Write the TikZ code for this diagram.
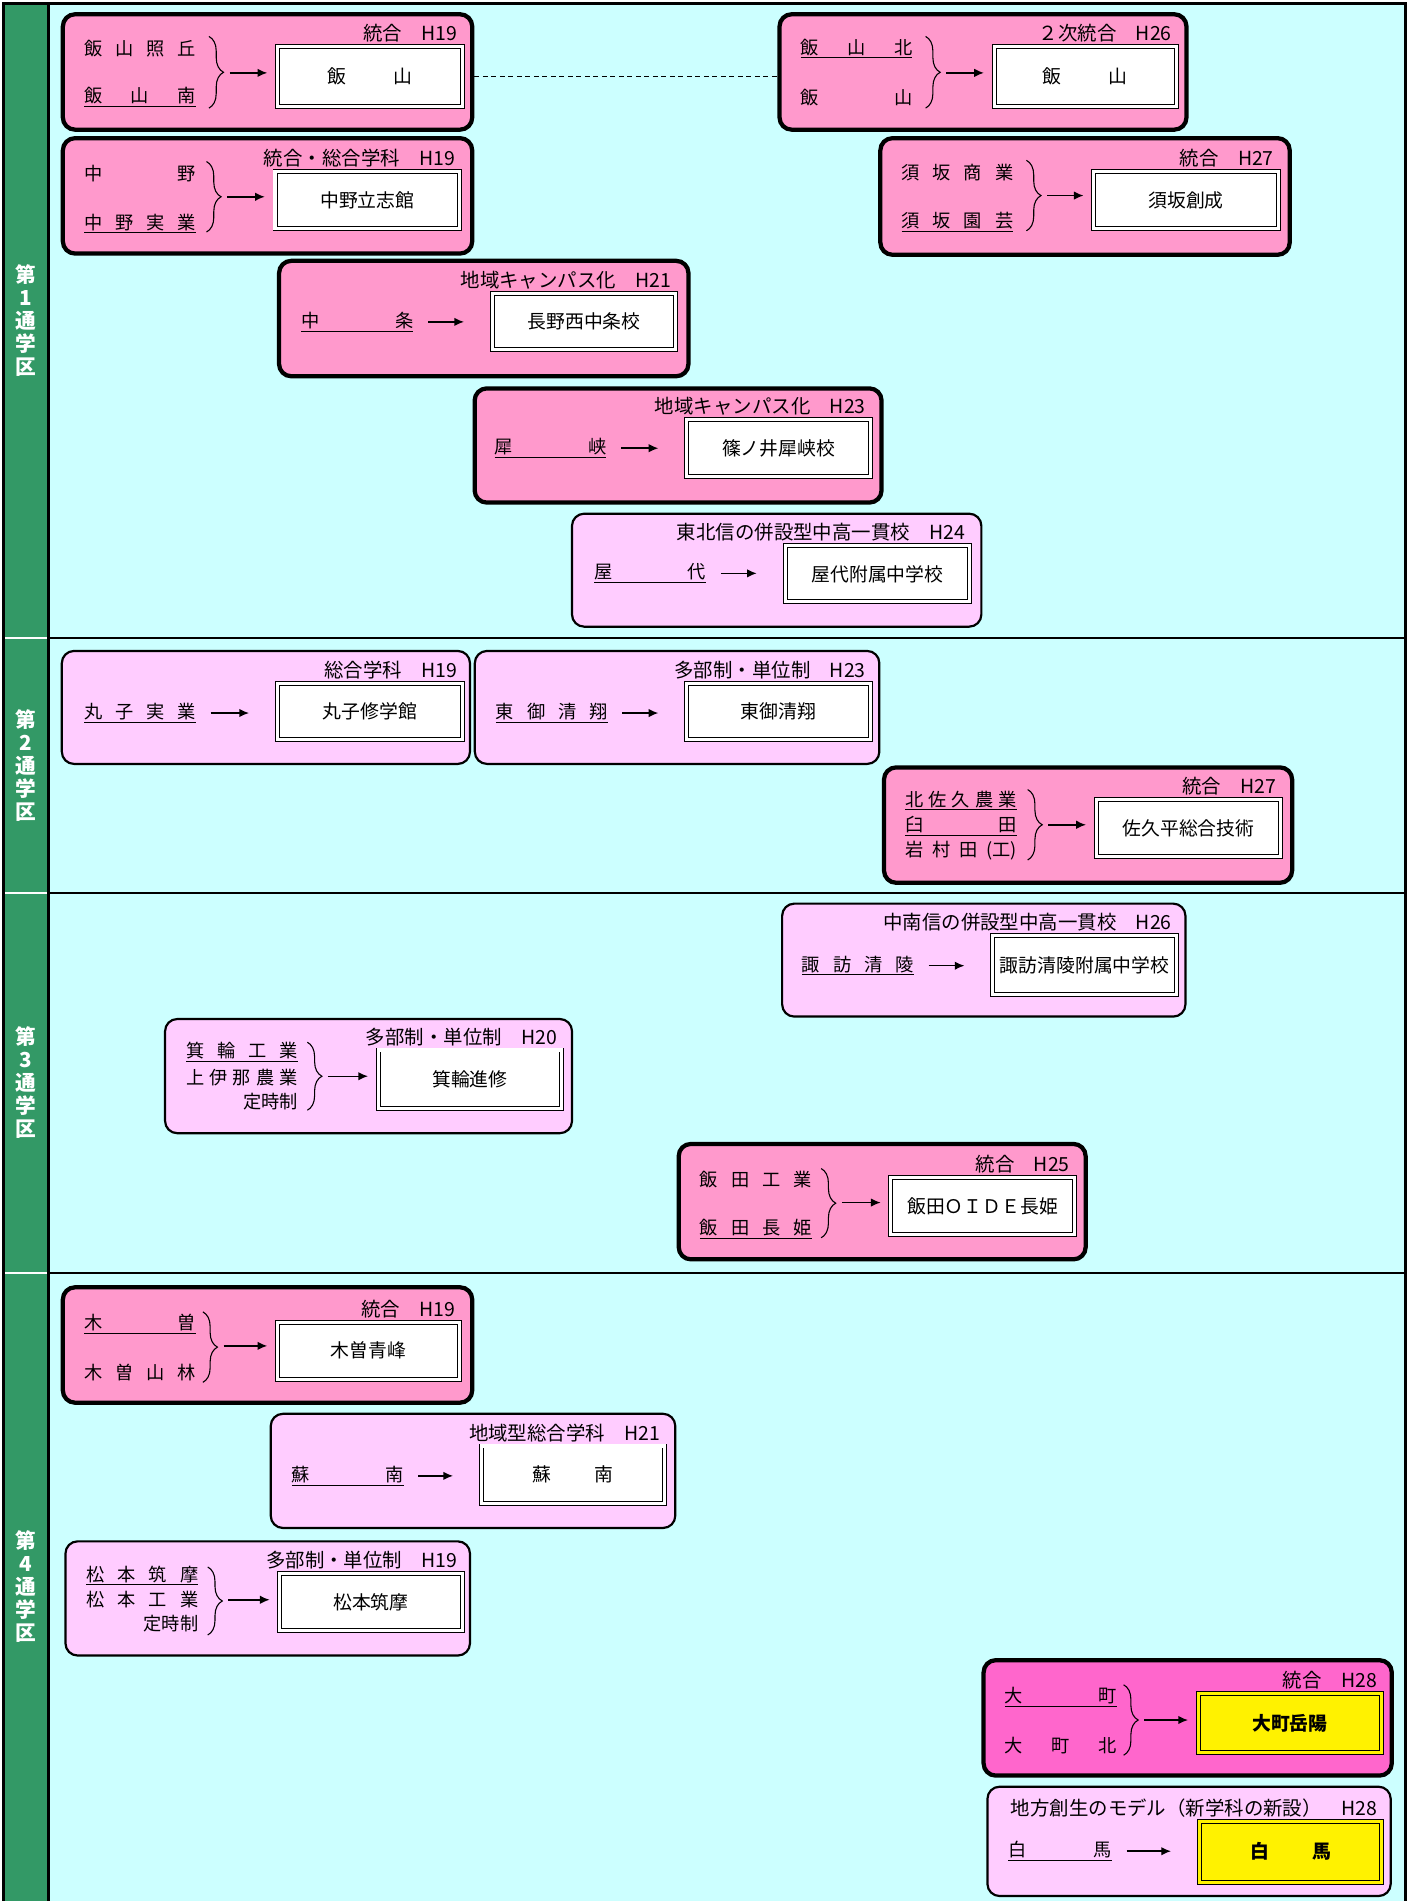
\documentclass[tikz,border=0pt]{standalone}
\usepackage{fontspec}
\setmainfont{Noto Sans CJK JP}
\usetikzlibrary{positioning,calc,arrows.meta,decorations.pathreplacing}
\definecolor{areagreen}{HTML}{339966}
\definecolor{areacyan}{HTML}{CCFFFF}
\definecolor{mergepink}{HTML}{FF99CC}
\definecolor{newpink}{HTML}{FFCCFF}
\definecolor{hotpink}{HTML}{FF66CC}
\newcommand{\sname}[2][92pt]{\makebox[#1][s]{#2}}
\newcommand{\rname}[1]{\makebox[92pt][r]{#1}}
\tikzset{
  every node/.style={font=\fontsize{15pt}{18pt}\selectfont},
  mergebox/.style={draw, line width=3.5pt, rounded corners=10pt, fill=mergepink, anchor=north west},
  hotbox/.style={mergebox, fill=hotpink},
  campusbox/.style={draw, line width=1.8pt, rounded corners=10pt, fill=newpink, anchor=north west},
  newbox/.style={draw, line width=0.8pt, double=white, double distance=2.5pt, fill=white, anchor=north west, inner sep=0pt, font=\fontsize{15.5pt}{18pt}\selectfont},
  goldbox/.style={newbox, double=yellow, fill=yellow, font=\fontsize{15.5pt}{18pt}\selectfont\bfseries},
  oldname/.style={anchor=west, inner sep=0pt},
  kindtext/.style={inner sep=0pt, font=\fontsize{16pt}{18pt}\selectfont},
  areatext/.style={text=white, align=center, inner sep=0pt, font=\fontsize{17pt}{19pt}\selectfont\bfseries},
  brc/.style={decorate, decoration={brace, amplitude=12pt}, line width=0.9pt},
  conv/.style={line width=1.2pt, -{Latex[length=8pt,width=7pt]}, shorten <=5pt, shorten >=8pt},
  conv1/.style={conv, shorten <=12pt, shorten >=23pt}
}
\begin{document}
\begin{tikzpicture}[x=1pt,y=-1pt]
\useasboundingbox (0,0) rectangle (1160,1565);
% background and areas
\fill[areacyan] (3,3) rectangle (1157,1570);
\fill[areagreen] (3,3) rectangle (40,1570);
\draw[line width=2pt] (3,3) rectangle (1157,1570);
\draw[line width=2pt] (40,3) -- (40,1570);
\foreach \yy in {525,735,1048} {
  \draw[line width=2pt] (40,\yy) -- (1157,\yy);
  \draw[white, line width=1.5pt] (4,\yy) -- (39,\yy);
}
\node[areatext] (a1) at (21,264) {第\\1\\通\\学\\区};
\node[areatext] (a2) at (21,630) {第\\2\\通\\学\\区};
\node[areatext] (a3) at (21,891) {第\\3\\通\\学\\区};
\node[areatext] (a4) at (21,1306) {第\\4\\通\\学\\区};

% ---- area 1
\node[mergebox, minimum width=337pt, minimum height=95pt] (b1) at (50,10) {};
\node[oldname] (i1a) at (69,40) {\sname{飯\hfill 山\hfill 照\hfill 丘}};
\node[oldname] (i1b) at (69,80) {\underline{\sname{飯\hfill 山\hfill 南}}};
\draw[brc] (172,30) -- (172,89);
\coordinate (t1) at (184,60);
\node[newbox, minimum width=152pt, minimum height=49pt] (o1) at (228,38) {飯\hspace{2.5em}山};
\node[kindtext, above left=3pt and 4pt of o1.north east] (k1) {統合　H19};
\draw[conv] (t1) -- (t1 -| o1.west);

\node[mergebox, minimum width=335pt, minimum height=95pt] (b2) at (640,10) {};
\node[oldname] (i2a) at (659,40) {\underline{\sname{飯\hfill 山\hfill 北}}};
\node[oldname] (i2b) at (659,80) {\sname{飯\hfill 山}};
\draw[brc] (762,30) -- (762,89);
\coordinate (t2) at (774,60);
\node[newbox, minimum width=150pt, minimum height=49pt] (o2) at (818,38) {飯\hspace{2.5em}山};
\node[kindtext, above left=3pt and 4pt of o2.north east] (k2) {２次統合　H26};
\draw[conv] (t2) -- (t2 -| o2.west);
\draw[dash pattern=on 4pt off 3pt, line width=1pt] (o1.east -| b1.east) -- (o1.east -| b2.west);

\node[mergebox, minimum width=337pt, minimum height=95pt] (b3) at (50,112) {};
\node[oldname] (i3a) at (69,143) {\sname{中\hfill 野}};
\node[oldname] (i3b) at (69,184) {\underline{\sname{中\hfill 野\hfill 実\hfill 業}}};
\draw[brc] (170,133) -- (170,191);
\coordinate (t3) at (182,162);
\node[newbox, minimum width=152pt, minimum height=47pt] (o3) at (226,141) {中野立志館};
\node[kindtext, above left=3pt and 4pt of o3.north east] (k3) {統合・総合学科　H19};
\draw[conv] (t3) -- (t3 -| o3.west);

\node[mergebox, minimum width=337pt, minimum height=96pt] (b4) at (723,112) {};
\node[oldname] (i4a) at (742,142) {\sname{須\hfill 坂\hfill 商\hfill 業}};
\node[oldname] (i4b) at (742,183) {\underline{\sname{須\hfill 坂\hfill 園\hfill 芸}}};
\draw[brc] (845,132) -- (845,190);
\coordinate (t4) at (857,161);
\node[newbox, minimum width=152pt, minimum height=47pt] (o4) at (900,141) {須坂創成};
\node[kindtext, above left=3pt and 4pt of o4.north east] (k4) {統合　H27};
\draw[conv] (t4) -- (t4 -| o4.west);

\node[mergebox, minimum width=337pt, minimum height=95pt] (b5) at (228,213) {};
\node[oldname] (i5) at (248,265) {\underline{\sname{中\hfill 条}}};
\node[newbox, minimum width=151pt, minimum height=46pt] (o5) at (405,241) {長野西中条校};
\node[kindtext, above left=3pt and 4pt of o5.north east] (k5) {地域キャンパス化　H21};
\draw[conv1] (i5.east) -- (i5.east -| o5.west);

\node[mergebox, minimum width=335pt, minimum height=94pt] (b6) at (389,318) {};
\node[oldname] (i6) at (407,369) {\underline{\sname{犀\hfill 峡}}};
\node[newbox, minimum width=151pt, minimum height=47pt] (o6) at (565,345) {篠ノ井犀峡校};
\node[kindtext, above left=3pt and 4pt of o6.north east] (k6) {地域キャンパス化　H23};
\draw[conv1] (i6.east) -- (i6.east -| o6.west);

\node[campusbox, minimum width=337pt, minimum height=93pt] (b7) at (470,422) {};
\node[oldname] (i7) at (489,472) {\underline{\sname{屋\hfill 代}}};
\node[newbox, minimum width=152pt, minimum height=46pt] (o7) at (646,449) {屋代附属中学校};
\node[kindtext, above left=3pt and 4pt of o7.north east] (k7) {東北信の併設型中高一貫校　H24};
\draw[conv1] (i7.east) -- (i7.east -| o7.west);

% ---- area 2
\node[campusbox, minimum width=336pt, minimum height=93pt] (b8) at (50,535) {};
\node[oldname] (i8) at (69,587) {\underline{\sname{丸\hfill 子\hfill 実\hfill 業}}};
\node[newbox, minimum width=152pt, minimum height=46pt] (o8) at (228,562) {丸子修学館};
\node[kindtext, above left=3pt and 4pt of o8.north east] (k8) {総合学科　H19};
\draw[conv1] (i8.east) -- (i8.east -| o8.west);

\node[campusbox, minimum width=333pt, minimum height=93pt] (b9) at (390,535) {};
\node[oldname] (i9) at (408,587) {\underline{\sname{東\hfill 御\hfill 清\hfill 翔}}};
\node[newbox, minimum width=151pt, minimum height=46pt] (o9) at (565,562) {東御清翔};
\node[kindtext, above left=3pt and 4pt of o9.north east] (k9) {多部制・単位制　H23};
\draw[conv1] (i9.east) -- (i9.east -| o9.west);

\node[mergebox, minimum width=336pt, minimum height=95pt] (b10) at (726,630) {};
\node[oldname] (i10a) at (745,659) {\underline{\sname{北\hfill 佐\hfill 久\hfill 農\hfill 業}}};
\node[oldname] (i10b) at (745,680) {\underline{\sname{臼\hfill 田}}};
\node[oldname] (i10c) at (745,700) {\sname{岩\hfill 村\hfill 田\hfill (工)}};
\draw[brc] (846,650) -- (846,708);
\coordinate (t10) at (858,679);
\node[newbox, minimum width=152pt, minimum height=47pt] (o10) at (902,658) {佐久平総合技術};
\node[kindtext, above left=3pt and 4pt of o10.north east] (k10) {統合　H27};
\draw[conv] (t10) -- (t10 -| o10.west);

% ---- area 3
\node[campusbox, minimum width=332pt, minimum height=93pt] (b11) at (643,743) {};
\node[oldname] (i11) at (660,795) {\underline{\sname{諏\hfill 訪\hfill 清\hfill 陵}}};
\node[newbox, minimum width=151pt, minimum height=48pt] (o11) at (817,770) {諏訪清陵附属中学校};
\node[kindtext, above left=3pt and 4pt of o11.north east] (k11) {中南信の併設型中高一貫校　H26};
\draw[conv1] (i11.east) -- (i11.east -| o11.west);

\node[campusbox, minimum width=335pt, minimum height=94pt] (b12) at (135,838) {};
\node[oldname] (i12a) at (153,866) {\underline{\sname{箕\hfill 輪\hfill 工\hfill 業}}};
\node[oldname] (i12b) at (153,887) {\sname{上\hfill 伊\hfill 那\hfill 農\hfill 業}};
\node[oldname] (i12c) at (153,907) {\rname{定時制}};
\draw[brc] (253,858) -- (253,914);
\coordinate (t12) at (265,886);
\node[newbox, minimum width=151pt, minimum height=48pt] (o12) at (311,864) {箕輪進修};
\node[kindtext, above left=3pt and 4pt of o12.north east] (k12) {多部制・単位制　H20};
\draw[conv] (t12) -- (t12 -| o12.west);

\node[mergebox, minimum width=335pt, minimum height=95pt] (b13) at (557,940) {};
\node[oldname] (i13a) at (576,971) {\sname{飯\hfill 田\hfill 工\hfill 業}};
\node[oldname] (i13b) at (576,1012) {\underline{\sname{飯\hfill 田\hfill 長\hfill 姫}}};
\draw[brc] (676,962) -- (676,1019);
\coordinate (t13) at (688,990);
\node[newbox, minimum width=151pt, minimum height=47pt] (o13) at (733,969) {飯田ＯＩＤＥ長姫};
\node[kindtext, above left=3pt and 4pt of o13.north east] (k13) {統合　H25};
\draw[conv] (t13) -- (t13 -| o13.west);

% ---- area 4
\node[mergebox, minimum width=337pt, minimum height=95pt] (b14) at (50,1058) {};
\node[oldname] (i14a) at (69,1090) {\underline{\sname{木\hfill 曽}}};
\node[oldname] (i14b) at (69,1130) {\sname{木\hfill 曽\hfill 山\hfill 林}};
\draw[brc] (167,1080) -- (167,1138);
\coordinate (t14) at (179,1108);
\node[newbox, minimum width=150pt, minimum height=47pt] (o14) at (228,1088) {木曽青峰};
\node[kindtext, above left=3pt and 4pt of o14.north east] (k14) {統合　H19};
\draw[conv] (t14) -- (t14 -| o14.west);

\node[campusbox, minimum width=333pt, minimum height=94pt] (b15) at (222,1163) {};
\node[oldname] (i15) at (240,1215) {\underline{\sname{蘇\hfill 南}}};
\node[newbox, minimum width=151pt, minimum height=47pt] (o15) at (396,1190) {蘇\hspace{2.3em}南};
\node[kindtext, above left=3pt and 4pt of o15.north east] (k15) {地域型総合学科　H21};
\draw[conv1] (i15.east) -- (i15.east -| o15.west);

\node[campusbox, minimum width=333pt, minimum height=94pt] (b16) at (53,1268) {};
\node[oldname] (i16a) at (71,1297) {\underline{\sname{松\hfill 本\hfill 筑\hfill 摩}}};
\node[oldname] (i16b) at (71,1317) {\sname{松\hfill 本\hfill 工\hfill 業}};
\node[oldname] (i16c) at (71,1337) {\rname{定時制}};
\draw[brc] (171,1290) -- (171,1346);
\coordinate (t16) at (183,1317);
\node[newbox, minimum width=150pt, minimum height=47pt] (o16) at (230,1295) {松本筑摩};
\node[kindtext, above left=3pt and 4pt of o16.north east] (k16) {多部制・単位制　H19};
\draw[conv] (t16) -- (t16 -| o16.west);

\node[hotbox, minimum width=336pt, minimum height=95pt] (b17) at (808,1365) {};
\node[oldname] (i17a) at (827,1397) {\underline{\sname{大\hfill 町}}};
\node[oldname] (i17b) at (827,1437) {\sname{大\hfill 町\hfill 北}};
\draw[brc] (925,1387) -- (925,1445);
\coordinate (t17) at (937,1416);
\node[goldbox, minimum width=151pt, minimum height=48pt] (o17) at (986,1394) {大町岳陽};
\node[kindtext, above left=3pt and 4pt of o17.north east] (k17) {統合　H28};
\draw[conv] (t17) -- (t17 -| o17.west);

\node[campusbox, minimum width=332pt, minimum height=90pt] (b18) at (812,1470) {};
\node[oldname] (i18) at (830,1524) {\underline{\sname[85pt]{白\hfill 馬}}};
\node[goldbox, minimum width=150pt, minimum height=50pt] (o18) at (987,1499) {白\hspace{2.3em}馬};
\node[kindtext, above left=3pt and 4pt of o18.north east] (k18) {地方創生のモデル（新学科の新設）　H28};
\draw[conv1] (i18.east) -- (i18.east -| o18.west);
\end{tikzpicture}
\end{document}
